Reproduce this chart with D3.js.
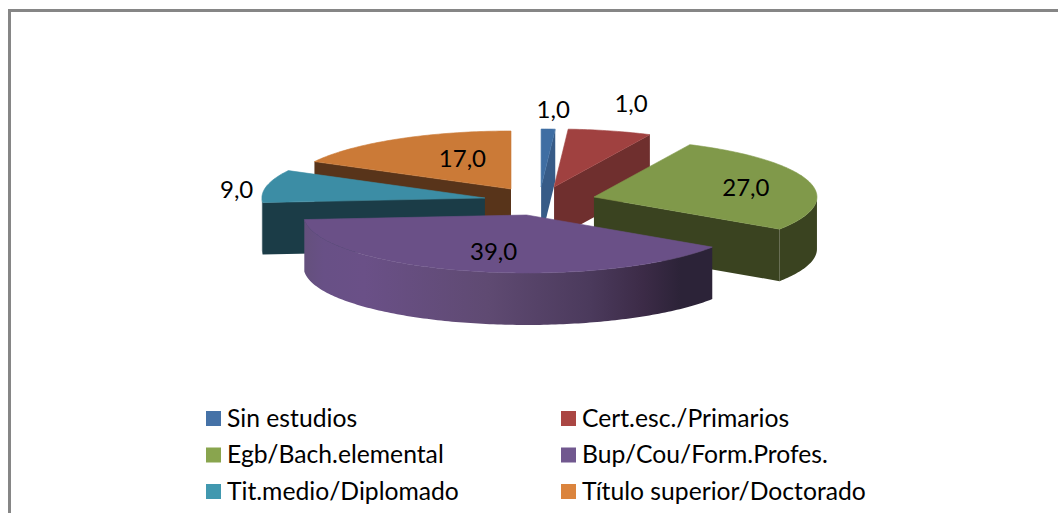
<!DOCTYPE html>
<html>
<head>
<meta charset="utf-8">
<script src="https://cdn.jsdelivr.net/npm/d3@7"></script>
<style>
html,body{margin:0;padding:0;background:#fff;overflow:hidden}
svg{display:block}
text{font-family:Lato,"Open Sans",sans-serif;fill:#000}
</style>
</head>
<body>
<svg id="chart" width="1058" height="513"></svg>
<script>
// Data
const categories = ["Sin estudios","Cert.esc./Primarios","Egb/Bach.elemental","Bup/Cou/Form.Profes.","Tit.medio/Diplomado","Título superior/Doctorado"];
const wedgeValues = [1,6,27,39,9,17];
const valueLabels = ["1,0","1,0","27,0","39,0","9,0","17,0"];
const topColors  = ["#3f6ea3","#a04140","#80994a","#6a5087","#3c8da5","#cb7a37"];
const sideColors = ["#375b87","#6f2f2e","#3a4320","#2c2338","#1b3c47","#58341a"];
const legendColors = ["#4572a7","#aa4643","#89a54e","#71588f","#4198af","#db843d"];

// Layout: slice displacement in pie-radius units (exploded 3-D pie)
const explodeX = [0.135,0.193,0.372,0.07,-0.117,0];
const explodeY = [-0.172,-0.172,0,0.31,0.017,-0.138];
const labelDX  = [5,21,-63,23,-30,66];
const labelDY  = [-21,-28,5,-21,2,18];
const drawOrder = [5,0,1,2,4,3];

const svg = d3.select("#chart");
const x = d3.scaleLinear().domain([-1,1]).range([288,734]);
const y = d3.scaleLinear().domain([-1,1]).range([139,255]);
const depth = 52;

const pie = d3.pie().sort(null).startAngle(0).endAngle(2*Math.PI);
const arcs = pie(wedgeValues);
const line = d3.line();

// Purple wall gradient
const defs = svg.append("defs");
const grad = defs.append("linearGradient").attr("id","wallGrad")
  .attr("gradientUnits","userSpaceOnUse").attr("x1",303).attr("x2",713).attr("y1",0).attr("y2",0);
[[0,"#64507c"],[0.05,"#685086"],[0.15,"#6a5087"],[0.45,"#5f4a72"],[0.7,"#4b3a5c"],[0.83,"#3c2b47"],[0.92,"#2c2338"],[1,"#2c2338"]]
  .forEach(([o,c])=>grad.append("stop").attr("offset",o).attr("stop-color",c));

function pt(i,a){ // point on the rim of slice i at angle a
  return [x(explodeX[i]+Math.sin(a)), y(explodeY[i]-Math.cos(a))];
}
function apex(i){ return [x(explodeX[i]), y(explodeY[i])]; }
function rim(i,a0,a1){
  const n = Math.max(2,Math.ceil((a1-a0)/(Math.PI/180)));
  return d3.range(n+1).map(k=>pt(i,a0+(a1-a0)*k/n));
}
function down(p){ return [p[0],p[1]+depth]; }

const g = svg.append("g");

drawOrder.forEach(i=>{
  const d = arcs[i], a0=d.startAngle, a1=d.endAngle, c = apex(i);
  const slice = g.append("g").attr("class","slice");
  const side = i===3 ? "url(#wallGrad)" : sideColors[i];
  // radial faces facing the viewer
  if(Math.sin(a0) < -1e-6){
    const s = pt(i,a0);
    slice.append("path").attr("d",line([c,s,down(s),down(c)])+"Z").attr("fill",side);
  }
  if(Math.sin(a1) > 1e-6){
    const e = pt(i,a1);
    slice.append("path").attr("d",line([c,e,down(e),down(c)])+"Z").attr("fill",side);
  }
  // outer wall
  const w0=Math.max(a0,Math.PI/2), w1=Math.min(a1,3*Math.PI/2);
  if(w1>w0){
    const r = rim(i,w0,w1);
    slice.append("path").attr("d",line(r.concat(r.slice().reverse().map(down)))+"Z").attr("fill",side);
  }
  // top, with a hairline of its own colour so no seam shows against the wall
  slice.append("path").attr("d",line([c].concat(rim(i,a0,a1)))+"Z")
    .attr("fill",topColors[i]).attr("stroke",topColors[i]).attr("stroke-width",0.6);
});

// value labels
svg.append("g").selectAll("text").data(arcs).join("text")
  .attr("x",(d,i)=>{const m=(d.startAngle+d.endAngle)/2;return pt(i,m)[0];})
  .attr("y",(d,i)=>{const m=(d.startAngle+d.endAngle)/2;return pt(i,m)[1];})
  .attr("dx",(d,i)=>labelDX[i]).attr("dy",(d,i)=>labelDY[i])
  .attr("text-anchor","middle").attr("dominant-baseline","central")
  .attr("font-size",24).text((d,i)=>valueLabels[i]);

// legend
const colX = d3.scalePoint().domain([0,1]).range([206,561]);
const rowY = d3.scalePoint().domain([0,1,2]).range([418.5,491.5]);
const leg = svg.append("g").selectAll("g").data(categories).join("g")
  .attr("transform",(d,i)=>`translate(${colX(i%2)},${rowY(Math.floor(i/2))})`);
leg.append("rect").attr("x",0).attr("y",-7.5).attr("width",15).attr("height",15)
  .attr("fill",(d,i)=>legendColors[i]);
leg.append("text").attr("x",21).attr("y",-1.5).attr("dominant-baseline","central")
  .attr("font-size",24.7).text(d=>d);

// chart frame
svg.append("path").attr("d","M9.5,513V10.5H1058").attr("fill","none").attr("stroke","#868686").attr("stroke-width",3);
</script>
</body>
</html>
